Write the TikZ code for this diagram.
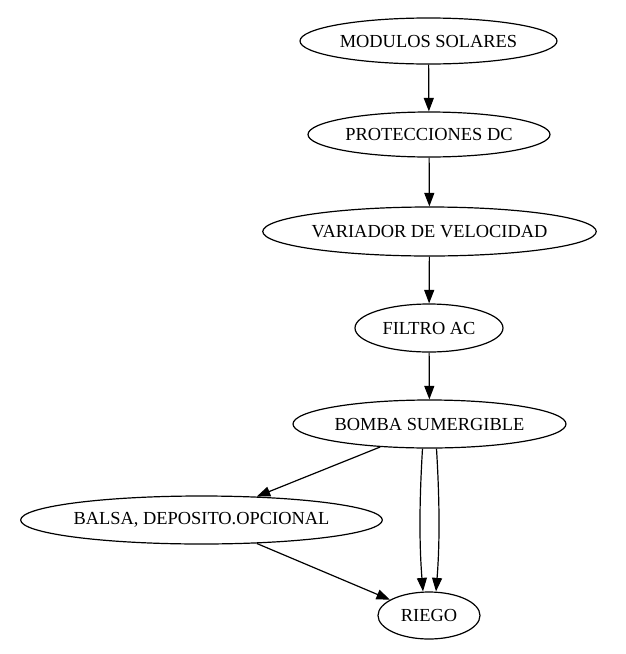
\documentclass[tikz,border=0pt]{standalone}
\usepackage{fontspec}
\setmainfont{Liberation Serif}
\usetikzlibrary{shapes.geometric,arrows.meta,calc}
\begin{document}
\begin{tikzpicture}[x=1pt,y=-1pt,
  box/.style={draw,ellipse,inner sep=0pt,line width=1.2pt,font=\fontsize{18.4}{20}\selectfont},
  conn/.style={line width=1.2pt,-{Triangle[length=13.5pt,width=10pt]}}]
\useasboundingbox (0,0) rectangle (625,654);
\node[box,minimum width=257pt,minimum height=46pt] (m) at (428.5,41) {MODULOS SOLARES};
\node[box,minimum width=242pt,minimum height=45pt] (p) at (429,134.5) {PROTECCIONES DC};
\node[box,minimum width=329pt,minimum height=49pt] (v) at (429.5,231.5) {VARIADOR DE VELOCIDAD};
\node[box,minimum width=148pt,minimum height=48pt] (f) at (429,328) {FILTRO AC};
\node[box,minimum width=273pt,minimum height=48pt] (b) at (429.5,424) {BOMBA SUMERGIBLE};
\node[box,minimum width=359pt,minimum height=48pt] (d) at (201.5,520) {BALSA, DEPOSITO.OPCIONAL};
\node[box,minimum width=102pt,minimum height=47pt] (r) at (429,615.5) {RIEGO};
\draw[conn] (m) -- (p);
\draw[conn] (p) -- (v);
\draw[conn] (v) -- (f);
\draw[conn] (f) -- (b);
\draw[conn] (b.205) -- (d.23);
\draw[conn] (d.337) -- (r.158);
\draw[conn] ($(b.south)+(-7,0)$) .. controls +(-3,50) and +(-4,-50) .. ($(r.north)+(-6,0)$);
\draw[conn] ($(b.south)+(7,0)$) .. controls +(3,50) and +(4,-50) .. ($(r.north)+(7,0)$);
\end{tikzpicture}
\end{document}
